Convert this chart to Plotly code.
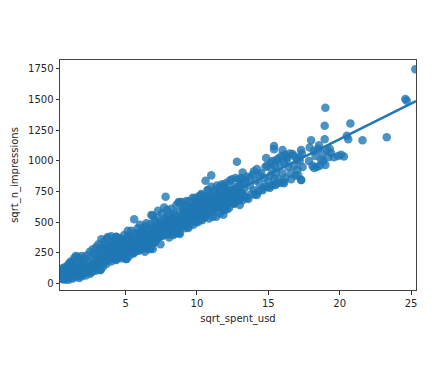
import plotly.graph_objects as go

sqrt_spent_usd = [
 0.45,0.50,0.50,0.55,0.60,0.60,0.65,0.70,0.70,0.75,
 0.80,0.80,0.85,0.90,0.90,0.95,1.00,1.00,1.05,1.05,
 1.10,1.10,1.15,1.20,1.20,1.25,1.30,1.30,1.35,1.40,
 1.40,1.45,1.50,1.50,1.55,1.60,1.65,1.65,1.70,1.75,
 1.80,1.80,1.85,1.90,1.95,2.00,2.00,2.05,2.10,2.15,
 2.20,2.25,2.30,2.30,2.35,2.40,2.45,2.50,2.50,2.55,
 2.60,2.65,2.70,2.70,2.75,2.80,2.85,2.90,2.90,2.95,
 3.00,3.05,3.10,3.10,3.15,3.20,3.25,3.30,3.30,3.35,
 3.40,3.45,3.50,3.50,3.55,3.60,3.65,3.70,3.75,3.80,
 3.85,3.90,3.95,4.00,4.00,4.05,4.10,4.15,4.20,4.25,
 4.30,4.35,4.40,4.45,4.50,4.55,4.60,4.65,4.70,4.75,
 4.80,4.85,4.90,4.95,5.00,5.05,5.10,5.15,5.20,5.25,
 5.30,5.35,5.40,5.45,5.50,5.55,5.60,5.65,5.70,5.75,
 5.80,5.85,5.90,5.95,6.00,6.05,6.10,6.15,6.20,6.25,
 6.30,6.35,6.40,6.45,6.50,6.55,6.60,6.65,6.70,6.80,
 6.85,6.90,6.95,7.00,7.05,7.10,7.15,7.20,7.25,7.30,
 7.35,7.40,7.45,7.50,7.55,7.60,7.65,7.70,7.75,7.80,
 7.85,7.90,7.95,8.00,8.05,8.10,8.15,8.20,8.25,8.30,
 8.35,8.40,8.45,8.50,8.55,8.60,8.65,8.70,8.75,8.80,
 8.85,8.90,8.95,9.00,9.05,9.10,9.15,9.20,9.30,9.40,
 9.45,9.50,9.55,9.60,9.65,9.70,9.75,9.80,9.85,9.90,
 9.95,10.00,10.05,10.10,10.15,10.20,10.25,10.30,10.35,10.40,
 10.45,10.50,10.55,10.60,10.65,10.70,10.75,10.80,10.85,10.90,
 11.00,11.00,11.05,11.10,11.15,11.20,11.25,11.30,11.35,11.40,
 11.45,11.50,11.55,11.60,11.70,11.75,11.80,11.85,11.90,11.95,
 12.00,12.05,12.10,12.15,12.20,12.25,12.30,12.35,12.40,12.45,
 12.50,12.55,12.60,12.65,12.70,12.80,12.85,12.90,12.95,13.00,
 13.05,13.10,13.15,13.20,13.25,13.30,13.40,13.50,13.60,13.70,
 13.80,13.90,14.00,14.05,14.10,14.20,14.30,14.40,14.50,14.60,
 14.70,14.80,14.90,15.00,14.85,15.10,15.15,15.20,15.25,15.30,
 15.40,15.40,15.40,15.45,15.50,15.55,15.60,15.70,15.80,15.85,
 15.90,16.00,16.00,16.05,16.10,16.15,16.20,16.30,16.40,16.50,
 16.60,16.70,16.80,16.90,17.00,17.05,17.10,17.20,17.30,17.30,
 17.35,17.40,17.85,17.90,18.00,18.10,18.20,18.30,18.40,18.50,
 18.55,18.60,18.70,18.80,18.85,18.95,18.95,19.00,19.10,19.20,
 19.30,19.40,19.60,19.90,20.10,20.30,20.50,20.60,20.75,21.60,
 23.30,24.60,24.70,25.30,
]
sqrt_n_impressions = [
 45,75,100,35,60,125,85,50,130,30,
 70,110,45,90,145,60,30,120,75,165,
 45,100,180,60,140,85,40,175,110,60,
 205,130,55,225,90,160,70,220,120,45,
 95,190,145,60,225,80,175,120,205,85,
 65,150,110,230,95,175,135,80,260,120,
 90,205,150,280,110,240,135,105,195,300,
 160,120,260,320,145,215,110,360,190,290,
 135,245,175,340,210,290,160,370,235,190,
 305,265,215,180,385,240,320,205,275,345,
 195,380,255,310,225,370,280,240,335,205,
 300,265,395,235,330,200,360,430,280,385,
 250,325,430,290,370,245,525,340,290,400,
 265,450,360,310,480,280,420,345,305,455,
 380,325,470,285,405,350,440,310,280,490,
 370,555,425,330,510,395,460,360,535,415,
 380,500,440,390,570,470,425,620,530,708,
 450,600,490,400,560,510,440,610,470,540,
 405,575,500,445,640,520,410,660,480,590,
 530,460,665,500,610,560,450,635,520,590,
 670,540,490,615,570,700,520,640,590,535,
 680,610,560,710,640,520,600,730,660,570,
 690,620,540,838,710,640,760,600,680,720,
 882,790,650,700,610,760,670,740,620,800,
 690,640,770,720,660,810,700,630,780,740,
 680,820,720,650,760,700,840,670,740,850,
 700,790,650,730,860,993,690,770,850,640,
 700,860,740,680,820,770,710,870,690,800,
 730,890,760,725,840,934,750,810,900,775,
 860,790,960,830,1023,780,880,940,800,1000,
 1121,1095,860,960,810,910,1010,850,970,820,
 1040,1089,900,830,990,1050,860,1030,950,1060,
 900,1056,960,880,1010,930,880,1000,1089,844,
 1060,950,1000,1110,1168,960,942,1040,950,1100,
 1127,960,1010,1060,1000,1176,1287,1434,1090,1030,
 1100,1065,1030,1040,1050,1035,1205,1176,1306,1168,
 1192,1505,1490,1747,
]
dense_spent_usd = [
 3.05,3.15,3.25,3.35,3.45,3.55,3.65,3.75,3.85,3.95,
 4.05,4.15,4.25,4.35,4.45,4.55,4.65,4.75,4.85,4.95,
 5.05,5.15,5.25,5.35,5.45,5.55,5.65,5.75,5.85,5.95,
 6.05,6.15,6.25,6.35,6.45,6.55,6.65,6.75,6.85,6.95,
 7.05,7.15,7.25,7.35,7.45,7.55,7.65,7.75,7.85,7.95,
 8.05,8.15,8.25,8.35,8.45,8.55,8.65,8.75,8.85,8.95,
 9.05,9.15,9.25,9.35,9.45,9.55,9.65,9.75,9.85,9.95,
 10.05,10.15,10.25,10.35,10.45,10.55,10.65,10.75,10.85,10.95,
 11.05,11.15,11.25,11.35,11.45,11.55,11.65,11.75,11.85,11.95,
 12.05,12.15,12.25,12.35,12.45,12.55,12.65,12.75,12.85,12.95,
 3.50,4.00,4.50,5.00,5.50,6.00,6.50,7.00,7.50,8.00,
 8.50,9.00,9.50,10.00,10.50,11.00,11.50,12.00,12.50,13.00,
 4.20,4.80,5.40,6.10,6.70,7.30,7.90,8.60,9.20,9.80,
 10.40,10.90,11.30,11.70,12.10,12.40,12.60,12.80,13.10,13.40,
]
dense_impressions = [
 235,170,285,215,260,190,320,225,280,210,
 290,230,350,250,310,215,360,275,235,330,
 265,385,225,310,350,250,410,300,365,270,
 420,305,380,260,345,450,325,290,395,460,
 340,430,375,480,320,445,395,500,420,465,
 375,520,445,395,555,430,500,415,540,465,
 600,490,550,460,620,510,575,480,645,545,
 500,660,570,515,625,550,690,590,530,650,
 585,700,610,545,670,630,720,600,560,690,
 640,750,615,665,720,655,770,700,680,800,
 280,320,300,360,330,390,400,430,470,520,
 490,560,520,620,580,690,650,710,760,810,
 330,350,340,420,370,450,540,480,530,600,
 570,600,650,690,605,680,720,760,730,840,
]
edge_spent_usd = [
 3.75,4.35,6.45,6.80,7.27,8.75,9.26,9.85,10.30,10.75,11.60,11.90,
 3.20,4.35,5.05,5.40,6.20,6.90,7.03,7.60,8.20,8.80,9.40,9.96,10.40,11.10,11.60,11.90,
 12.60,13.00,13.50,14.20,14.60,15.00,15.50,16.10,16.60,17.30,
 13.20,13.70,14.00,14.40,14.80,15.20,15.70,16.30,16.80,17.20,18.20,19.00,
]
edge_impressions = [
 379,382,492,558,594,664,672,695,720,762,790,800,
 110,192,200,260,288,281,341,390,410,403,452,504,531,545,573,600,
 655,680,700,722,760,790,803,818,850,844,
 905,860,915,880,950,985,1020,1010,1040,1030,1080,966,
]
line_x = [0.40, 25.35]
line_y = [40, 1488]
x_ticks = [5, 10, 15, 20, 25]
y_ticks = [0, 250, 500, 750, 1000, 1250, 1500, 1750]
x_title = "sqrt_spent_usd"
y_title = "sqrt_n_impressions"

fig = go.Figure()
fig.add_trace(go.Scatter(x=sqrt_spent_usd + dense_spent_usd + edge_spent_usd,
                         y=sqrt_n_impressions + dense_impressions + edge_impressions,
                         mode="markers",
                         marker=dict(size=8.5, color="#1f77b4", opacity=0.8, line=dict(width=0))))
fig.add_trace(go.Scatter(x=line_x, y=line_y, mode="lines", line=dict(color="#1f77b4", width=2.5)))
axis = dict(showgrid=False, zeroline=False, showline=True, mirror=True, linecolor="#444444", linewidth=1,
            ticks="outside", ticklen=3.5, tickwidth=1, tickcolor="#333333", automargin=False,
            tickfont=dict(family="DejaVu Sans", size=10, color="#262626"))
fig.update_layout(
    width=431, height=375, showlegend=False, paper_bgcolor="white", plot_bgcolor="white",
    margin=dict(l=52, r=23, t=52, b=93),
    font=dict(family="DejaVu Sans", size=10, color="#262626"),
    xaxis=dict(axis, range=[0.4, 25.35], tickvals=x_ticks,
               title=dict(text=x_title, standoff=7, font=dict(size=10))),
    yaxis=dict(axis, range=[-53, 1823], tickvals=y_ticks,
               title=dict(text=y_title, standoff=7, font=dict(size=10))),
)
assert len(sqrt_spent_usd) == len(sqrt_n_impressions)
assert len(dense_spent_usd) == len(dense_impressions)
assert len(edge_spent_usd) == len(edge_impressions)
fig.write_html("out.html")
